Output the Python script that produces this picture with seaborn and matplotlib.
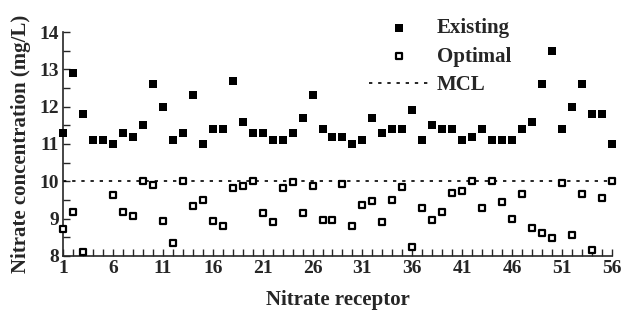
import matplotlib
matplotlib.use("Agg")
import matplotlib.pyplot as plt
import numpy as np
import pandas as pd
import seaborn as sns
from matplotlib.ticker import MultipleLocator, FixedLocator

# Data
receptor = list(range(1, 57))
existing = [11.3, 12.9, 11.8, 11.1, 11.1, 11.0, 11.3, 11.2, 11.5, 12.6,
            12.0, 11.1, 11.3, 12.3, 11.0, 11.4, 11.4, 12.7, 11.6, 11.3,
            11.3, 11.1, 11.1, 11.3, 11.7, 12.3, 11.4, 11.2, 11.2, 11.0,
            11.1, 11.7, 11.3, 11.4, 11.4, 11.9, 11.1, 11.5, 11.4, 11.4,
            11.1, 11.2, 11.4, 11.1, 11.1, 11.1, 11.4, 11.6, 12.6, 13.5,
            11.4, 12.0, 12.6, 11.8, 11.8, 11.0]
optimal = [8.72, 9.19, 8.11, np.nan, np.nan, 9.64, 9.18, 9.07, 10.0, 9.91,
           8.94, 8.34, 10.0, 9.35, 9.5, 8.94, 8.8, 9.83, 9.88, 10.0,
           9.14, 8.9, 9.82, 9.97, 9.15, 9.88, 8.97, 8.96, 9.93, 8.8,
           9.37, 9.48, 8.9, 9.5, 9.84, 8.25, 9.28, 8.97, 9.19, 9.68,
           9.74, 10.0, 9.28, 10.0, 9.44, 8.98, 9.65, 8.74, 8.61, 8.47,
           9.95, 8.55, 9.65, 8.16, 9.54, 10.0]
mcl = 10.0

df = pd.DataFrame({"Nitrate receptor": receptor, "Existing": existing, "Optimal": optimal})

sns.set_style("ticks")
plt.rcParams["font.family"] = ["Liberation Serif", "DejaVu Serif"]
plt.rcParams["font.weight"] = "bold"

fig = plt.figure(figsize=(6.26, 3.11), dpi=100)
ax = fig.add_axes([0.1006, 0.177, 0.877, 0.72])

ax.axhline(mcl, color="black", lw=1.2, linestyle=(0, (2, 3.5)), label="MCL", zorder=1)
sns.scatterplot(data=df, x="Nitrate receptor", y="Existing", ax=ax, marker="s", s=34,
                color="black", edgecolor="black", linewidth=0, label="Existing",
                clip_on=False, zorder=3)
sns.scatterplot(data=df, x="Nitrate receptor", y="Optimal", ax=ax, marker="s", s=22,
                facecolor="white", edgecolor="black", linewidth=1.6, label="Optimal",
                clip_on=False, zorder=3)

ax.set_xlim(1, 56)
ax.set_ylim(8, 14)
ax.xaxis.set_major_locator(FixedLocator(list(range(1, 57, 5))))
ax.xaxis.set_minor_locator(FixedLocator(receptor))
ax.yaxis.set_major_locator(MultipleLocator(1))
ax.yaxis.set_minor_locator(MultipleLocator(0.5))
ax.tick_params(which="both", direction="in", width=1, labelsize=14, pad=3)
ax.tick_params(which="major", length=5)
ax.tick_params(which="minor", length=5)
for lab in ax.get_xticklabels() + ax.get_yticklabels():
    lab.set_fontweight("bold")

sns.despine(ax=ax)
for sp in ["left", "bottom"]:
    ax.spines[sp].set_linewidth(1.2)

ax.set_xlabel("Nitrate receptor", fontsize=15, fontweight="bold", labelpad=9)
ax.set_ylabel("Nitrate concentration (mg/L)", fontsize=15, fontweight="bold", labelpad=6)

h, l = ax.get_legend_handles_labels()
order = [l.index("Existing"), l.index("Optimal"), l.index("MCL")]
ax.legend([h[i] for i in order], [l[i] for i in order], loc="upper right",
          bbox_to_anchor=(0.85, 1.145), frameon=False,
          handlelength=2.9, handletextpad=0.35, labelspacing=0.4,
          prop={"weight": "bold", "size": 15})

fig.savefig("out.png", dpi=100)
